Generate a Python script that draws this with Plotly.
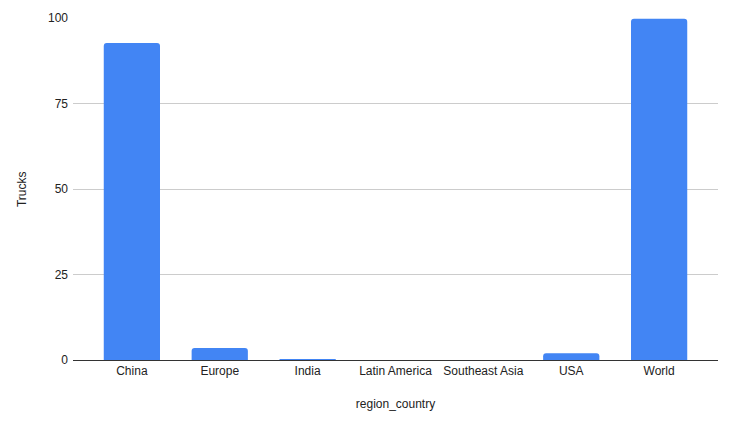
import plotly.graph_objects as go

# Trucks by region / country
regions = ["China", "Europe", "India", "Latin America", "Southeast Asia", "USA", "World"]
trucks = [92.7, 3.5, 0.25, 0, 0, 2.0, 99.8]

fig = go.Figure(go.Bar(
    x=regions, y=trucks,
    marker=dict(color="#4285F4", cornerradius=3, line=dict(width=0)),
))

# page body adds an 8px margin, so the figure is sized to fit inside it
fig.update_layout(
    width=719, height=409,
    margin=dict(l=65, r=9, t=10, b=57),
    plot_bgcolor="white", paper_bgcolor="white",
    font=dict(family="Liberation Sans, Arial, sans-serif", size=12, color="#222222"),
    bargap=0.36,
    showlegend=False,
)
fig.update_xaxes(
    title=dict(text="region_country", standoff=22, font=dict(size=12)),
    range=[-0.67, 6.67], automargin=False,
    showgrid=False, showline=True, linecolor="#333333", linewidth=1,
    ticks="", tickfont=dict(size=12),
)
fig.update_yaxes(
    range=[0, 100], tickvals=[0, 25, 50, 75, 100], automargin=False,
    showgrid=True, gridcolor="#cccccc", gridwidth=1,
    zeroline=False, showline=False, ticks="",
    tickfont=dict(size=12), ticklabelstandoff=4,
)
# y title as an annotation so it sits where the reference has it
fig.add_annotation(
    text="Trucks", textangle=-90, showarrow=False,
    xref="paper", yref="paper", x=-0.079, y=0.5,
    xanchor="center", yanchor="middle", font=dict(size=12),
)

fig.write_html("out.html")
